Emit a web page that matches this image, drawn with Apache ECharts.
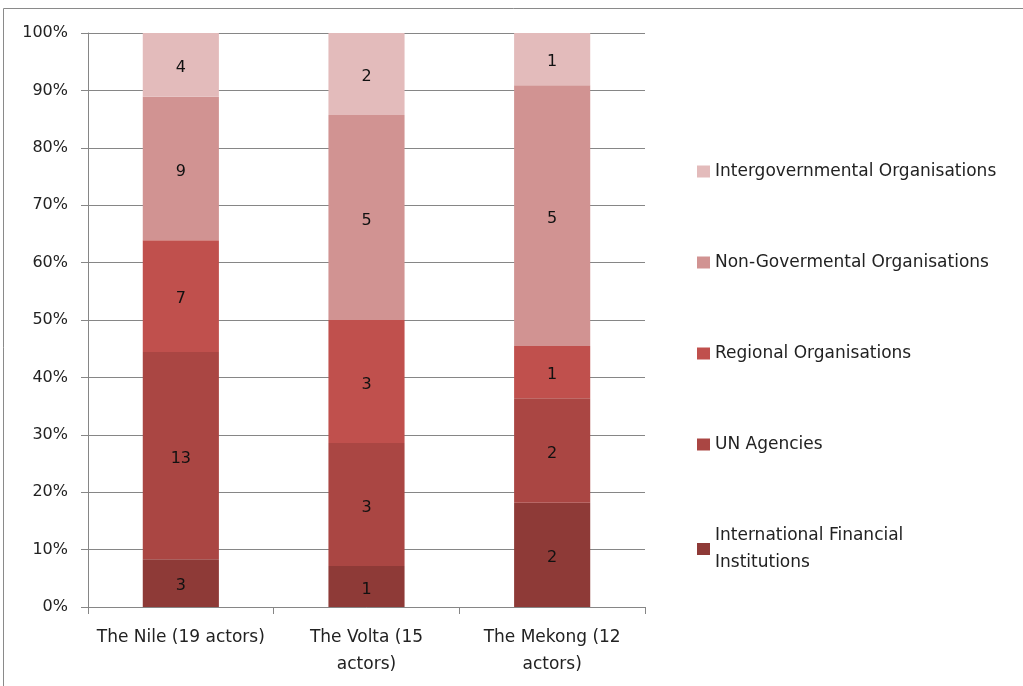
<!DOCTYPE html>
<html>
<head>
<meta charset="utf-8">
<script src="https://cdn.jsdelivr.net/npm/echarts@6/dist/echarts.min.js"></script>
<style>
  html, body { margin: 0; padding: 0; background: #fff; }
  #chart { width: 1023px; height: 686px; }
</style>
</head>
<body>
<div id="chart"></div>
<script>
// basins (x axis)
const categories = ['The Nile (19 actors)', 'The Volta (15\nactors)', 'The Mekong (12\nactors)']
// stacked from bottom to top
const seriesNames = [
  'International Financial Institutions',
  'UN Agencies',
  'Regional Organisations',
  'Non-Govermental Organisations',
  'Intergovernmental Organisations'
]
const ifiValues = [3, 1, 2]
const unValues = [13, 3, 2]
const regionalValues = [7, 3, 1]
const ngoValues = [9, 5, 5]
const igoValues = [4, 2, 1]
const yTicks = [0, 10, 20, 30, 40, 50, 60, 70, 80, 90, 100]

const colors = ['#8E3A37', '#AA4643', '#C0504D', '#D19392', '#E3BBBB']
const rawSeries = [ifiValues, unValues, regionalValues, ngoValues, igoValues]

// totals per basin, to turn counts into shares
const totals = categories.map((c, i) => rawSeries.reduce((s, arr) => s + arr[i], 0))

const font = 'DejaVu Sans, sans-serif'
const chart = echarts.init(document.getElementById('chart'))

chart.setOption({
  animation: false,
  graphic: [{
    type: 'rect',
    shape: { x: 3.5, y: 8.5, width: 1040, height: 700 },
    style: { fill: 'none', stroke: '#8a8a8a', lineWidth: 1 },
    silent: true
  }],
  grid: { left: 88, right: 378, top: 33, bottom: 79 },
  legend: {
    orient: 'vertical',
    left: 692,
    top: 153,
    itemWidth: 13,
    itemHeight: 12,
    itemGap: 64,
    icon: 'rect',
    data: seriesNames.slice().reverse(),
    formatter: name => name === 'International Financial Institutions'
      ? 'International Financial\nInstitutions' : name,
    textStyle: { fontFamily: font, fontSize: 17, color: '#222', lineHeight: 27 }
  },
  xAxis: {
    type: 'category',
    data: categories,
    axisLine: { lineStyle: { color: '#868686' } },
    axisTick: { show: true, length: 7, alignWithLabel: false, lineStyle: { color: '#868686' } },
    axisLabel: { fontFamily: font, fontSize: 17, color: '#222', margin: 17, lineHeight: 27, interval: 0 }
  },
  yAxis: {
    type: 'value',
    min: 0,
    max: 100,
    interval: 10,
    axisLine: { show: true, lineStyle: { color: '#868686' } },
    axisTick: { show: true, length: 7, lineStyle: { color: '#868686' } },
    splitLine: { lineStyle: { color: '#868686' } },
    axisLabel: {
      fontFamily: font, fontSize: 16, color: '#222', margin: 20,
      formatter: v => yTicks.includes(v) ? v + '%' : ''
    }
  },
  series: rawSeries.map((arr, k) => ({
    name: seriesNames[k],
    type: 'bar',
    stack: 'share',
    barWidth: '41%',
    itemStyle: { color: colors[k] },
    label: {
      show: true,
      position: 'inside',
      offset: [0, 3],
      fontFamily: font,
      fontSize: 16,
      color: '#111',
      formatter: p => arr[p.dataIndex]
    },
    data: arr.map((v, i) => v / totals[i] * 100)
  }))
})
</script>
</body>
</html>
